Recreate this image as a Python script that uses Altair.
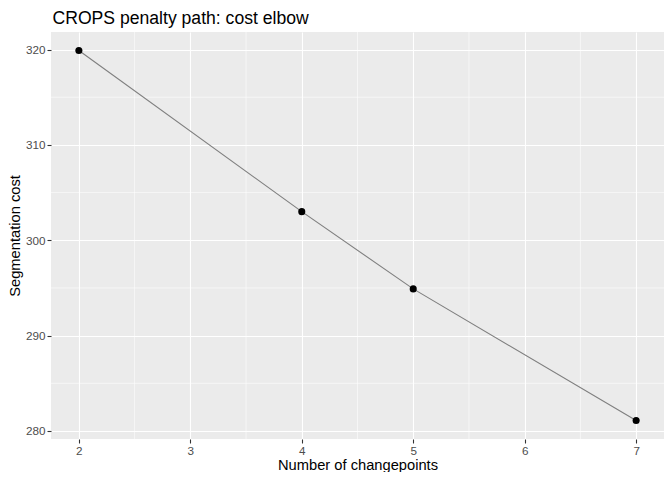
import altair as alt
import pandas as pd

# CROPS path: changepoints vs segmentation cost
n_changepoints = [2, 4, 5, 7]
seg_cost = [319.9, 303.0, 294.9, 281.1]

x_breaks = [2, 3, 4, 5, 6, 7]
x_minor = [2.5, 3.5, 4.5, 5.5, 6.5]
y_breaks = [280, 290, 300, 310, 320]
y_minor = [285, 295, 305, 315]

FONT = "Liberation Sans"

df = pd.DataFrame({"k": n_changepoints, "cost": seg_cost})

x_scale = alt.Scale(domain=[1.75, 7.25], nice=False, zero=False)
y_scale = alt.Scale(domain=[279.16, 321.84], nice=False, zero=False)

x_axis = alt.Axis(
    values=x_breaks, title="Number of changepoints", grid=True,
    gridColor="white", gridWidth=1.1, domain=False,
    tickColor="#333333", tickSize=4, tickWidth=1.1,
    labelColor="#4D4D4D", labelFontSize=11.7, labelFont=FONT, labelPadding=2,
    titleColor="black", titleFontSize=14.7, titleFont=FONT, titleFontWeight="normal",
    titlePadding=1,
)
y_axis = alt.Axis(
    values=y_breaks, title="Segmentation cost", grid=True,
    gridColor="white", gridWidth=1.1, domain=False,
    tickColor="#333333", tickSize=4, tickWidth=1.1,
    labelColor="#4D4D4D", labelFontSize=11.7, labelFont=FONT, labelPadding=2,
    titleColor="black", titleFontSize=14.7, titleFont=FONT, titleFontWeight="normal",
    titlePadding=3,
)

# minor grid lines share the scales and axes with the data layers
minor_x = alt.Chart(pd.DataFrame({"v": x_minor})).mark_rule(
    color="white", strokeWidth=0.55
).encode(x=alt.X("v:Q", scale=x_scale, axis=x_axis))

minor_y = alt.Chart(pd.DataFrame({"v": y_minor})).mark_rule(
    color="white", strokeWidth=0.55
).encode(y=alt.Y("v:Q", scale=y_scale, axis=y_axis))

base = alt.Chart(df).encode(
    x=alt.X("k:Q", scale=x_scale, axis=x_axis),
    y=alt.Y("cost:Q", scale=y_scale, axis=y_axis),
)

line = base.mark_line(color="#7F7F7F", strokeWidth=1.1)
points = base.mark_circle(color="black", size=50, opacity=1)

chart = (
    alt.layer(minor_x, minor_y, line, points)
    .properties(
        width=613,
        height=407,
        autosize=alt.AutoSizeParams(type="none"),
        padding={"left": 43, "top": 24, "right": 0, "bottom": 33},
        title=alt.TitleParams(
            "CROPS penalty path: cost elbow", anchor="start", font=FONT,
            fontSize=17.6, fontWeight="normal", color="black", offset=4, dx=45,
        ),
    )
    .configure_view(fill="#EBEBEB", stroke=None)
)

chart.save("out.html", embed_options={"renderer": "svg", "actions": False})
